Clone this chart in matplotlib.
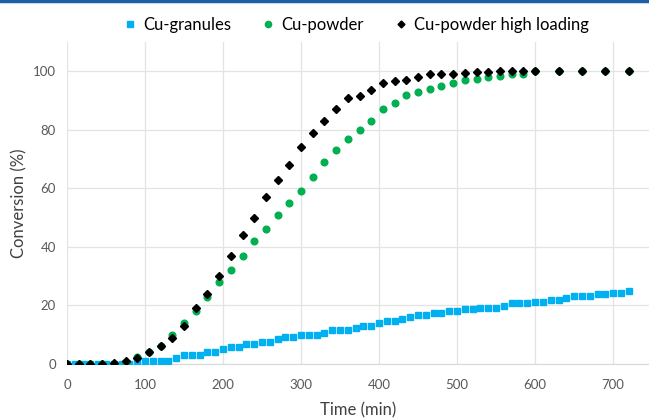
import matplotlib
matplotlib.use("Agg")
import matplotlib.pyplot as plt
from matplotlib.lines import Line2D

# data
time_granules = [0, 10, 20, 30, 40, 50, 60, 70, 80, 90, 100, 110, 120, 130, 140, 150, 160, 170, 180,
                 190, 200, 210, 220, 230, 240, 250, 260, 270, 280, 290, 300, 310, 320, 330, 340, 350,
                 360, 370, 380, 390, 400, 410, 420, 430, 440, 450, 460, 470, 480, 490, 500, 510, 520,
                 530, 540, 550, 560, 570, 580, 590, 600, 610, 620, 630, 640, 650, 660, 670, 680, 690,
                 700, 710, 720]
conv_granules = [0, 0, 0, 0, 0, 0, 0, 0, 0, 0.6, 1.1, 1.1, 1.1, 1.1, 2, 3, 3, 3, 4,
                 4, 5, 5.7, 5.7, 6.7, 6.7, 7.5, 7.5, 8.4, 9.3, 9.3, 10, 10, 10, 10.7, 11.6, 11.6,
                 11.6, 12.4, 13.1, 13.1, 13.9, 14.7, 14.7, 15.3, 16.1, 16.9, 16.9, 17.5, 17.5, 18.1, 18.1, 18.8, 18.8,
                 19.3, 19.3, 19.3, 19.9, 20.7, 20.7, 20.7, 21.2, 21.2, 22, 22, 22.6, 23.3, 23.3, 23.3, 23.8, 23.8,
                 24.3, 24.3, 25]

time_powder = [0, 15, 30, 45, 60, 75, 90, 105, 120, 135, 150, 165, 180, 195, 210, 225, 240, 255, 270,
               285, 300, 315, 330, 345, 360, 375, 390, 405, 420, 435, 450, 465, 480, 495, 510, 525, 540,
               555, 570, 585, 600, 630, 660, 690, 720]
conv_powder = [0, 0, 0, 0, 0, 0.5, 2.5, 4, 6, 10, 14, 18, 23, 28, 32, 37, 42, 46, 51,
               55, 59, 64, 69, 73, 77, 80, 83, 87, 89, 92, 93, 94, 95, 96, 97, 97.5, 98,
               98.5, 99, 99, 100, 100, 100, 100, 100]
conv_high = [0, 0, 0, 0, 0.5, 1, 2, 4, 6, 9, 13, 19, 24, 30, 37, 44, 50, 57, 63,
             68, 74, 79, 83, 87, 91, 91.5, 93.5, 96, 96.6, 97.1, 98.2, 98.9, 99, 99.2, 99.5, 99.8, 99.8,
             100, 100, 100, 100, 100, 100, 100, 100]

x_ticks = [0, 100, 200, 300, 400, 500, 600, 700]
y_ticks = [0, 20, 40, 60, 80, 100]

plt.rcParams['font.family'] = ['Lato', 'DejaVu Sans']

fig = plt.figure(figsize=(6.49, 4.2), dpi=100)
ax = fig.add_axes([67 / 649, 56 / 420, 1 - 67 / 649, 322 / 420])

ax.plot(time_granules, conv_granules, ls='none', marker='s', ms=4.5, color='#00b0f0',
        mec='#00b0f0', label='Cu-granules', zorder=3)
ax.plot(time_powder, conv_powder, ls='none', marker='o', ms=4.8, color='#00b050',
        mec='#00b050', label='Cu-powder', zorder=4)
ax.plot(time_powder, conv_high, ls='none', marker='D', ms=3.8, color='black',
        mec='black', label='Cu-powder high loading', zorder=5)

ax.set_xlim(0, 746)
ax.set_ylim(0, 110)
ax.set_xticks(x_ticks)
ax.set_yticks(y_ticks)
ax.grid(True, color='#e3e3e3', lw=0.9)
ax.set_axisbelow(True)
for s in ['top', 'right', 'left']:
    ax.spines[s].set_visible(False)
ax.spines['bottom'].set_color('#d9d9d9')
ax.tick_params(length=0, labelsize=9.5, colors='#595959')
ax.tick_params(axis='x', pad=11)
ax.tick_params(axis='y', pad=8)

ax.set_xlabel('Time (min)', fontsize=12, color='#404040', labelpad=8)
ax.set_ylabel('Conversion (%)', fontsize=12, color='#404040', labelpad=4)

handles = [
    Line2D([], [], ls='none', marker='s', ms=4.5, color='#00b0f0'),
    Line2D([], [], ls='none', marker='o', ms=4.5, color='#00b050'),
    Line2D([], [], ls='none', marker='D', ms=3.5, color='black'),
]
fig.legend(handles, ['Cu-granules', 'Cu-powder', 'Cu-powder high loading'],
           loc='center', bbox_to_anchor=(357 / 649, 1 - 25 / 420), ncol=3, frameon=False,
           fontsize=12, handlelength=0.6, handletextpad=0.5, columnspacing=1.9)

# thin blue rule along the top edge
fig.add_artist(Line2D([0, 1], [0.997, 0.997], color='#1f5fa8', lw=2.5, transform=fig.transFigure))

fig.savefig('out.png', dpi=100)
